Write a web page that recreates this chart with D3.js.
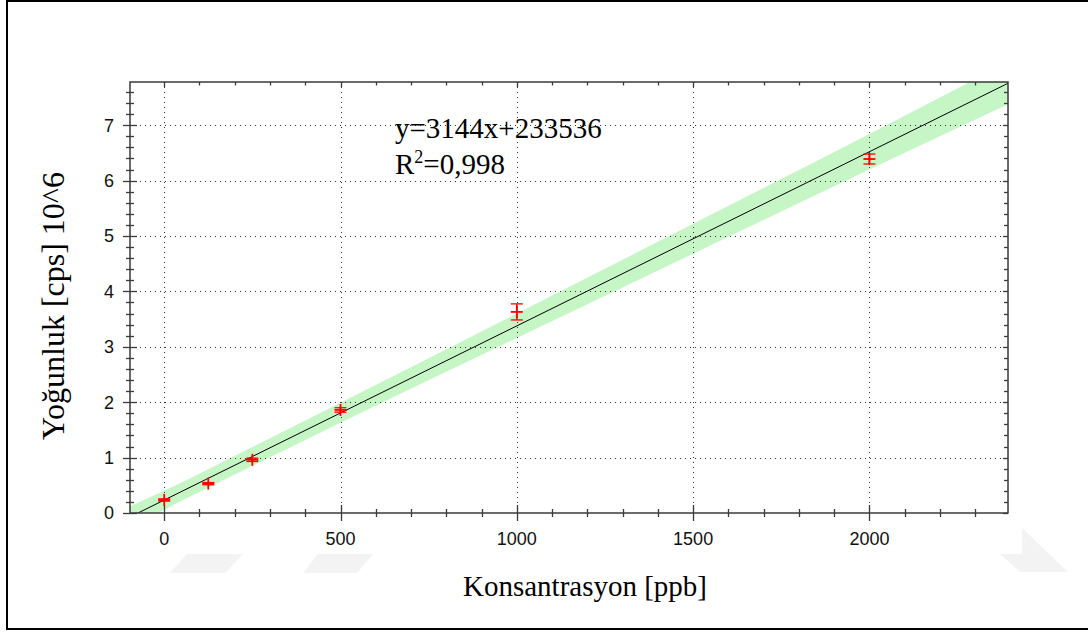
<!DOCTYPE html>
<html>
<head>
<meta charset="utf-8">
<script src="https://cdn.jsdelivr.net/npm/d3@7"></script>
<style>
  html, body { margin: 0; padding: 0; background: #fff; }
  svg { display: block; }
</style>
</head>
<body>
<svg id="chart" width="1088" height="633"></svg>
<script>
// Calibration standards: concentration (ppb) and mean intensity (10^6 cps)
const concentration = [0, 125, 250, 500, 1000, 2000];
const intensity = [0.235, 0.53, 0.96, 1.86, 3.63, 6.39];
const intensityErr = [0.02, 0.02, 0.03, 0.04, 0.145, 0.09];

// Linear fit reported on the chart (cps per ppb, cps)
const fitSlope = 3144;
const fitIntercept = 233536;
const fitR2 = "0,998";

// Confidence band edges (10^6 cps) along the concentration axis
const bandX = [-97, 0, 250, 500, 1000, 1500, 2000, 2393];
const bandLow = [-0.26, 0.06, 0.85, 1.63, 3.16, 4.68, 6.20, 7.38];
const bandHigh = [0.12, 0.40, 1.19, 1.99, 3.60, 5.22, 6.84, 8.14];

// Axis ticks
const xMajorTicks = [0, 500, 1000, 1500, 2000];
const yMajorTicks = [0, 1, 2, 3, 4, 5, 6, 7];

const svg = d3.select("#chart");
const plot = { left: 130, right: 1008, top: 82, bottom: 513 };

// faint background emblems
const wm = svg.append("g").attr("fill", "#f3f3f3");
[[187, 243, 225, 170], [318, 373, 357, 303]].forEach(([a, b, c, d]) => {
  wm.append("polygon").attr("points", `${a},554 ${b},554 ${c},573 ${d},573`);
});
wm.append("polygon").attr("points", "1022,528 1068,572 1020,572 1000,554 1022,554");

// outer frame
svg.append("rect")
  .attr("x", 7).attr("y", 1).attr("width", 1090).attr("height", 628)
  .attr("fill", "none").attr("stroke", "#000").attr("stroke-width", 2);

const x = d3.scaleLinear().domain([-97, 2393]).range([plot.left, plot.right]);
const y = d3.scaleLinear().domain([0, 7.78]).range([plot.bottom, plot.top]);

svg.append("defs").append("clipPath").attr("id", "plotClip")
  .append("rect")
  .attr("x", plot.left).attr("y", plot.top)
  .attr("width", plot.right - plot.left).attr("height", plot.bottom - plot.top);

const inner = svg.append("g").attr("clip-path", "url(#plotClip)");

// confidence band
const bandData = bandX.map((v, i) => ({ x: v, lo: bandLow[i], hi: bandHigh[i] }));
inner.append("path")
  .datum(bandData)
  .attr("fill", "#c6f6c6")
  .attr("d", d3.area()
    .x(d => x(d.x))
    .y0(d => y(d.lo))
    .y1(d => y(d.hi))
    .curve(d3.curveMonotoneX));

// dotted grid
const grid = svg.append("g").attr("stroke", "#333").attr("stroke-width", 1)
  .attr("stroke-dasharray", "1,4").attr("fill", "none");
xMajorTicks.forEach(t => {
  grid.append("line")
    .attr("x1", Math.round(x(t)) + 0.5).attr("x2", Math.round(x(t)) + 0.5)
    .attr("y1", plot.top).attr("y2", plot.bottom);
});
yMajorTicks.filter(t => t > 0).forEach(t => {
  grid.append("line")
    .attr("x1", plot.left).attr("x2", plot.right)
    .attr("y1", Math.round(y(t)) + 0.5).attr("y2", Math.round(y(t)) + 0.5);
});

// regression line from the reported equation
const fit = c => (fitSlope * c + fitIntercept) / 1e6;
inner.append("line")
  .attr("x1", x(-97)).attr("y1", y(fit(-97)))
  .attr("x2", x(2393)).attr("y2", y(fit(2393)))
  .attr("stroke", "#000").attr("stroke-width", 1);

// axes frame and ticks
const axisColor = "#3a3a3a";
const frame = svg.append("g").attr("stroke", axisColor).attr("fill", "none");
frame.append("rect")
  .attr("x", plot.left).attr("y", plot.top)
  .attr("width", plot.right - plot.left).attr("height", plot.bottom - plot.top)
  .attr("stroke-width", 1.5);

const xMinor = d3.range(0, 2393, 100);
const yMinor = d3.range(0, 7.781, 0.2).map(v => +v.toFixed(1));

xMinor.forEach(t => {
  const major = xMajorTicks.includes(t);
  const px = Math.round(x(t)) + 0.5;
  frame.append("line").attr("x1", px).attr("x2", px)
    .attr("y1", plot.bottom - (major ? 8 : 4)).attr("y2", plot.bottom + (major ? 8 : 4))
    .attr("stroke-width", 1.3);
  frame.append("line").attr("x1", px).attr("x2", px)
    .attr("y1", plot.top).attr("y2", plot.top + (major ? 5 : 3.5))
    .attr("stroke-width", 1.3);
});
yMinor.forEach(t => {
  const major = Math.abs(t - Math.round(t)) < 1e-6;
  const py = Math.round(y(t)) + 0.5;
  frame.append("line").attr("y1", py).attr("y2", py)
    .attr("x1", plot.left - (major ? 7 : 4)).attr("x2", plot.left + (major ? 7 : 4))
    .attr("stroke-width", 1.3);
  frame.append("line").attr("y1", py).attr("y2", py)
    .attr("x1", plot.right - (major ? 5 : 4)).attr("x2", plot.right)
    .attr("stroke-width", 1.3);
});

// tick labels
const tickFont = "'Liberation Sans', Arial, sans-serif";
svg.append("g").selectAll("text").data(xMajorTicks).join("text")
  .attr("x", d => x(d)).attr("y", 545)
  .attr("text-anchor", "middle")
  .attr("font-family", tickFont).attr("font-size", 18).attr("fill", "#111")
  .text(d => d);
svg.append("g").selectAll("text").data(yMajorTicks).join("text")
  .attr("x", 114).attr("y", d => y(d))
  .attr("dy", "0.35em")
  .attr("text-anchor", "end")
  .attr("font-family", tickFont).attr("font-size", 18).attr("fill", "#111")
  .text(d => d);

// data points with error bars
const pts = concentration.map((c, i) => ({ c, v: intensity[i], e: intensityErr[i] }));
const marks = svg.append("g").attr("stroke", "#ff0000").attr("fill", "none");
pts.forEach(p => {
  const cx = x(p.c), cy = y(p.v);
  const yTop = y(p.v + p.e), yBot = y(p.v - p.e);
  marks.append("line").attr("x1", cx).attr("x2", cx).attr("y1", yTop).attr("y2", yBot).attr("stroke-width", 1.5);
  marks.append("line").attr("x1", cx - 6).attr("x2", cx + 6).attr("y1", yTop).attr("y2", yTop).attr("stroke-width", 1.3);
  marks.append("line").attr("x1", cx - 6).attr("x2", cx + 6).attr("y1", yBot).attr("y2", yBot).attr("stroke-width", 1.3);
  marks.append("line").attr("x1", cx - 6).attr("x2", cx + 6).attr("y1", cy).attr("y2", cy).attr("stroke-width", 1.8);
  marks.append("line").attr("x1", cx).attr("x2", cx).attr("y1", cy - 6).attr("y2", cy + 6).attr("stroke-width", 1.8);
});

// equation text
const serif = "'Liberation Serif', 'Times New Roman', serif";
svg.append("text")
  .attr("x", 395).attr("y", 138)
  .attr("font-family", serif).attr("font-size", 29).attr("fill", "#000")
  .text(`y=${fitSlope}x+${fitIntercept}`);
const r2 = svg.append("text")
  .attr("x", 395).attr("y", 174)
  .attr("font-family", serif).attr("font-size", 29).attr("fill", "#000");
r2.append("tspan").text("R");
r2.append("tspan").attr("font-size", 18).attr("dy", -11).text("2");
r2.append("tspan").attr("dy", 11).text(`=${fitR2}`);

// axis titles
svg.append("text")
  .attr("x", 585).attr("y", 596)
  .attr("text-anchor", "middle")
  .attr("font-family", serif).attr("font-size", 29).attr("fill", "#000")
  .text("Konsantrasyon [ppb]");
svg.append("text")
  .attr("transform", "translate(64,306) rotate(-90)")
  .attr("text-anchor", "middle")
  .attr("font-family", serif).attr("font-size", 32).attr("fill", "#000")
  .text("Yoğunluk [cps] 10^6");
</script>
</body>
</html>
